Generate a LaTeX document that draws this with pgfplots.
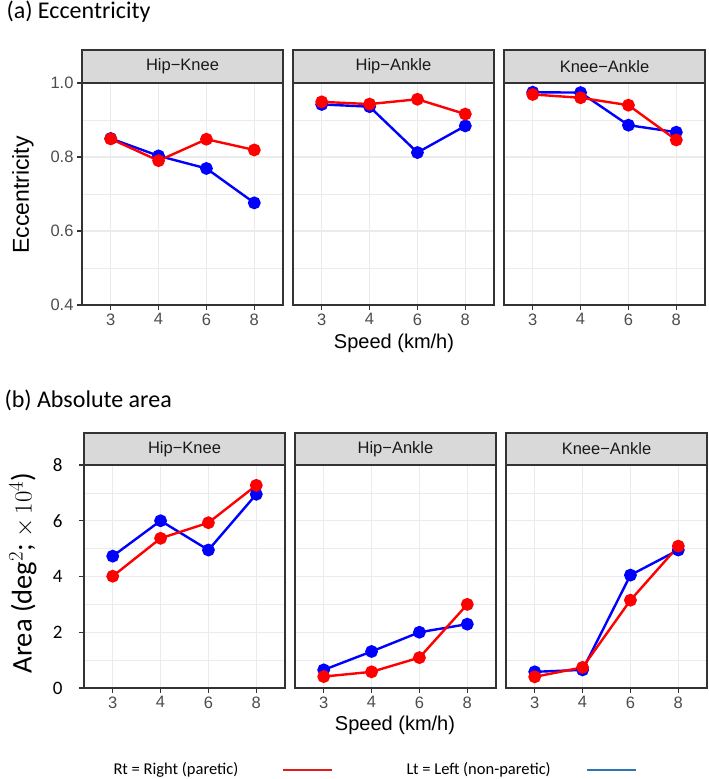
\documentclass[border=0pt]{standalone}
\usepackage{pgfplots}
\pgfplotsset{compat=1.18}
\usepackage{pgfplotstable}
\usepackage{fontspec}
\setmainfont{Liberation Sans}
\newfontfamily\calfont{Carlito}

\definecolor{ptred}{HTML}{FF0000}
\definecolor{ptblue}{HTML}{0000FF}
\definecolor{framec}{HTML}{333333}
\definecolor{stripc}{HTML}{D9D9D9}
\definecolor{gridc}{HTML}{EBEBEB}
\definecolor{tickc}{HTML}{4D4D4D}
\definecolor{legred}{HTML}{E31A1C}
\definecolor{legblue}{HTML}{2E75B6}

% Eccentricity: x = category index (3, 4, 6, 8 km/h)
\pgfplotstableread{
x speed Rt Lt
1 3 0.849 0.850
2 4 0.790 0.803
3 6 0.848 0.769
4 8 0.819 0.676
}\eccHK
\pgfplotstableread{
x speed Rt Lt
1 3 0.949 0.942
2 4 0.943 0.936
3 6 0.956 0.812
4 8 0.916 0.884
}\eccHA
\pgfplotstableread{
x speed Rt Lt
1 3 0.969 0.975
2 4 0.960 0.974
3 6 0.940 0.886
4 8 0.846 0.867
}\eccKA
% Absolute area (deg^2 x 10^4)
\pgfplotstableread{
x speed Rt Lt
1 3 4.01 4.73
2 4 5.37 6.00
3 6 5.93 4.95
4 8 7.27 6.95
}\areaHK
\pgfplotstableread{
x speed Rt Lt
1 3 0.41 0.65
2 4 0.58 1.31
3 6 1.09 2.00
4 8 3.00 2.29
}\areaHA
\pgfplotstableread{
x speed Rt Lt
1 3 0.40 0.58
2 4 0.74 0.65
3 6 3.15 4.05
4 8 5.09 4.95
}\areaKA

\newcommand{\tickfont}{\fontsize{16.5bp}{18bp}\selectfont}
\newcommand{\strip}[2]{%
  \draw[fill=stripc, draw=framec, line width=1.1bp]
    (rel axis cs:0,1) rectangle ([yshift=#2]rel axis cs:1,1);
  \node[font=\tickfont, text=black!90] at ([yshift=0.5*#2]rel axis cs:0.5,1) {#1};}

\pgfplotsset{
  facet/.style={
    width=201bp, height=222bp, scale only axis,
    xmin=0.4, xmax=4.6, xtick={1,2,3,4}, xticklabels={3,4,6,8},
    tick align=outside, tick pos=left,
    major tick length=5bp, minor tick length=0pt,
    xmajorgrids, ymajorgrids, yminorgrids,
    major grid style={color=gridc, line width=1.3bp},
    minor grid style={color=gridc, line width=0.7bp},
    axis line style={color=framec, line width=1.1bp},
    tick style={color=framec, line width=1.1bp},
    ticklabel style={font=\tickfont, text=tickc},
    /pgf/number format/assume math mode=true,
    clip=false, axis on top=false,
  },
  ecc/.style={facet, ymin=0.4, ymax=1.0, ytick={0.4,0.6,0.8,1.0},
    minor ytick={0.5,0.7,0.9},
    yticklabel style={/pgf/number format/.cd, fixed, fixed zerofill, precision=1}},
  area/.style={facet, height=223bp, ymin=0, ymax=8, ytick={0,2,4,6,8},
    minor ytick={1,3,5,7},
    yticklabel style={font=\calfont\fontsize{19bp}{21bp}\selectfont, text=black, xshift=-13bp}},
  inner/.style={yticklabels={}, ytick style={draw=none}},
  lt/.style={color=ptblue, line width=2.4bp, mark=*, mark size=5.2bp, mark options={solid, fill=ptblue}},
  rt/.style={color=ptred, line width=2.4bp, mark=*, mark size=5.2bp, mark options={solid, fill=ptred}},
}

\begin{document}
\begin{tikzpicture}[x=1bp, y=1bp]
\useasboundingbox (0,0) rectangle (709,779);

% ---------- (a) Eccentricity ----------
\node[anchor=west, font=\calfont\fontsize{24bp}{26bp}\selectfont] at (3,767) {(a) Eccentricity};

\begin{axis}[ecc, at={(82bp,474bp)}, anchor=south west]
  \addplot[lt] table[x=x, y=Lt] {\eccHK};
  \addplot[rt] table[x=x, y=Rt] {\eccHK};
  \strip{Hip\textminus Knee}{33bp}
\end{axis}
\begin{axis}[ecc, inner, at={(293bp,474bp)}, anchor=south west]
  \addplot[lt] table[x=x, y=Lt] {\eccHA};
  \addplot[rt] table[x=x, y=Rt] {\eccHA};
  \strip{Hip\textminus Ankle}{33bp}
\end{axis}
\begin{axis}[ecc, inner, at={(504bp,474bp)}, anchor=south west]
  \addplot[lt] table[x=x, y=Lt] {\eccKA};
  \addplot[rt] table[x=x, y=Rt] {\eccKA};
  \strip{Knee\textminus Ankle}{33bp}
\end{axis}

\node[rotate=90, font=\fontsize{23bp}{26bp}\selectfont] at (23,584) {Eccentricity};
\node[font=\fontsize{20bp}{22bp}\selectfont] at (394,436) {Speed (km/h)};

% ---------- (b) Absolute area ----------
\node[anchor=west, font=\calfont\fontsize{24bp}{26bp}\selectfont] at (1,379) {(b) Absolute area};

\begin{axis}[area, at={(84bp,91bp)}, anchor=south west]
  \addplot[lt] table[x=x, y=Lt] {\areaHK};
  \addplot[rt] table[x=x, y=Rt] {\areaHK};
  \strip{Hip\textminus Knee}{32bp}
\end{axis}
\begin{axis}[area, inner, at={(295bp,91bp)}, anchor=south west]
  \addplot[lt] table[x=x, y=Lt] {\areaHA};
  \addplot[rt] table[x=x, y=Rt] {\areaHA};
  \strip{Hip\textminus Ankle}{32bp}
\end{axis}
\begin{axis}[area, inner, at={(506bp,91bp)}, anchor=south west]
  \addplot[lt] table[x=x, y=Lt] {\areaKA};
  \addplot[rt] table[x=x, y=Rt] {\areaKA};
  \strip{Knee\textminus Ankle}{32bp}
\end{axis}

\node[rotate=90, font=\calfont\fontsize{28.5bp}{31bp}\selectfont] at (23,206) {Area (deg$^2$; $\times\,10^4$)};
\node[font=\fontsize{20bp}{22bp}\selectfont] at (395,54) {Speed (km/h)};

% ---------- key ----------
\node[anchor=west, font=\calfont\fontsize{16.5bp}{18bp}\selectfont] at (110,9) {Rt = Right (paretic)};
\draw[legred, line width=2.5bp] (283,9) -- (332,9);
\node[anchor=west, font=\calfont\fontsize{16.5bp}{18bp}\selectfont] at (403,9) {Lt = Left (non-paretic)};
\draw[legblue, line width=2.5bp] (587,9) -- (636,9);
\end{tikzpicture}
\end{document}
